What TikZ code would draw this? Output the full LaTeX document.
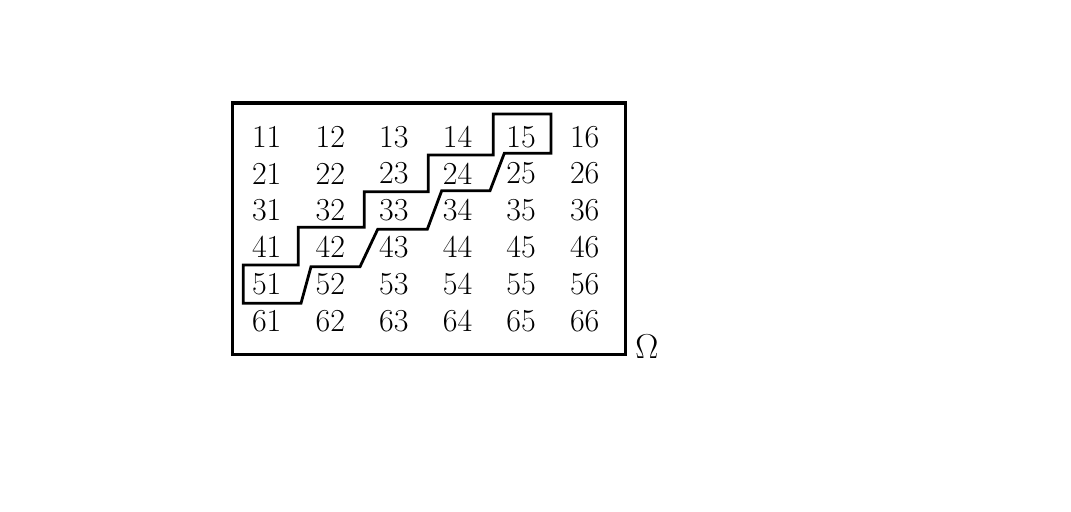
\documentclass[tikz,border=0pt]{standalone}
\usetikzlibrary{positioning}
\begin{document}
\begin{tikzpicture}[x=0.5pt,y=-0.5pt,
    entry/.style={inner sep=0pt, font=\fontsize{16}{19}\selectfont}]

      % Definitions
      \pgfmathsetmacro{\dx}{63.6}
      \pgfmathsetmacro{\dy}{36.8}
      \pgfmathsetmacro{\xo}{266.7}
      \pgfmathsetmacro{\yo}{136.7}

      \useasboundingbox (0,0) rectangle (1071,511);

      % sample space
      \draw[line width=1.6pt] (232.5,103) rectangle (625.5,354.5);
      \node[entry] (omega) at (647,347) {$\Omega$};

      % outcomes
      \foreach \r in {1,...,6}
        \foreach \c in {1,...,6}
          \node[entry] (n\r\c) at ({\xo+(\c-1)*\dx},{\yo+(\r-1)*\dy}) {\r\c};

      % event
      \draw[line width=1.4pt] (243.3,265) -- (243.3,303.3) -- (301,303.3)
        -- (311,266.7) -- (360,266.7) -- (377.7,229.3) -- (427.3,229.3)
        -- (441.7,190.7) -- (490,190.7) -- (504.3,153.3) -- (551,153.3)
        -- (551,114) -- (493.3,114) -- (493.3,155) -- (428.3,155)
        -- (428.3,191.7) -- (364.3,191.7) -- (364.3,227.3) -- (298.3,227.3)
        -- (298.3,265) -- cycle;
\end{tikzpicture}
\end{document}
